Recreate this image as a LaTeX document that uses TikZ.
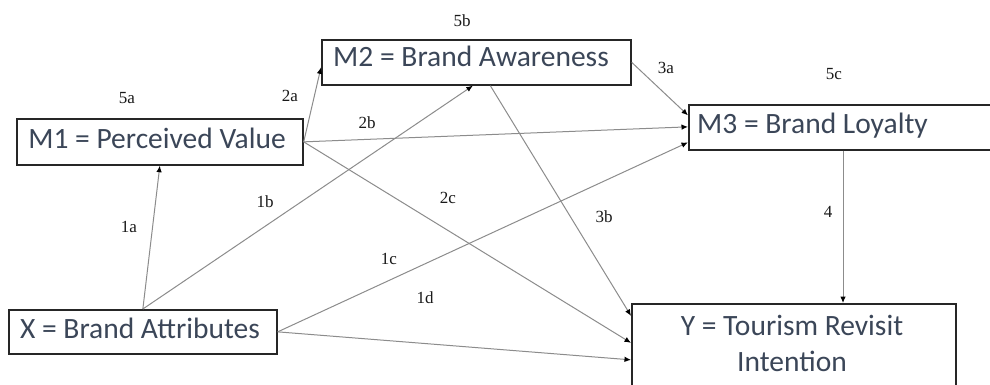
\documentclass[tikz,border=0pt]{standalone}
\usepackage{fontspec}
\setmainfont{Liberation Serif}
\newfontfamily\boxfont{Carlito}
\usetikzlibrary{arrows.meta,calc}
\definecolor{boxtext}{HTML}{3B4658}
\definecolor{conn}{HTML}{8C8C8C}
\begin{document}
\begin{tikzpicture}[x=1pt,y=-1pt,
  boxnode/.style={draw=black!85,line width=1.7pt,rectangle,inner sep=0pt,anchor=north west},
  boxtxt/.style={font=\boxfont\fontsize{29.5}{36}\selectfont,text=boxtext,inner sep=0pt,anchor=base},
  lab/.style={font=\fontsize{17}{19}\selectfont,text=black!90,inner sep=0pt},
  arr/.style={draw=conn,line width=1pt,-{Latex[black,length=6.5pt,width=5.5pt]}}]
\useasboundingbox[fill=white] (0,0) rectangle (990,384);
% boxes
\node[boxnode,minimum width=286pt,minimum height=46pt] (m1box) at (16,118) {};
\node[boxnode,minimum width=309pt,minimum height=45pt] (m2box) at (321,39) {};
\node[boxnode,minimum width=306pt,minimum height=45pt] (m3box) at (688,104) {};
\node[boxnode,minimum width=268pt,minimum height=44pt] (xbox) at (8,309) {};
\node[boxnode,minimum width=324pt,minimum height=94pt] (ybox) at (631,303) {};
% box texts
\node[boxtxt] (m1) at (157,148) {M1 = Perceived Value};
\node[boxtxt] (m2) at (471,66) {M2 = Brand Awareness};
\node[boxtxt,anchor=base west] (m3) at (697,133) {M3 = Brand Loyalty};
\node[boxtxt] (x) at (140,338) {X = Brand Attributes};
\node[boxtxt] (y1) at (792,335) {Y = Tourism Revisit};
\node[boxtxt] (y2) at (792,371) {Intention};
% connectors
\draw[arr] (xbox.north) -- (m1box.south);
\draw[arr] (xbox.north) -- ($(m2box.south)+(-3.5,0)$);
\draw[arr] (xbox.east) -- ($(m3box.west)+(0,15)$);
\draw[arr] (xbox.east) -- ($(ybox.west)+(0,9)$);
\draw[arr] (m1box.east) -- ($(m2box.west)+(0,5)$);
\draw[arr] (m1box.east) -- ($(m3box.west)+(0,-0.5)$);
\draw[arr] (m1box.east) -- ($(ybox.west)+(0,-8)$);
\draw[arr] (m2box.east) -- ($(m3box.west)+(0,-12)$);
\draw[arr] ($(m2box.south)+(14,0)$) -- ($(ybox.west)+(0,-35)$);
\coordinate (m3out) at ($(m3box.south west)+(155,0)$);
\draw[arr] (m3out) -- (m3out |- ybox.north);
% labels
\node[lab] (l5a) at (127,98) {5a};
\node[lab] (l2a) at (290,96) {2a};
\node[lab] (l5b) at (462,21) {5b};
\node[lab] (l3a) at (666,68) {3a};
\node[lab] (l5c) at (834,74) {5c};
\node[lab] (l2b) at (367,123) {2b};
\node[lab] (l1b) at (265,202) {1b};
\node[lab] (l2c) at (448,198) {2c};
\node[lab] (l3b) at (604,217) {3b};
\node[lab] (l4) at (828,212) {4};
\node[lab] (l1a) at (129,227) {1a};
\node[lab] (l1c) at (389,259) {1c};
\node[lab] (l1d) at (425,298) {1d};
\end{tikzpicture}
\end{document}
